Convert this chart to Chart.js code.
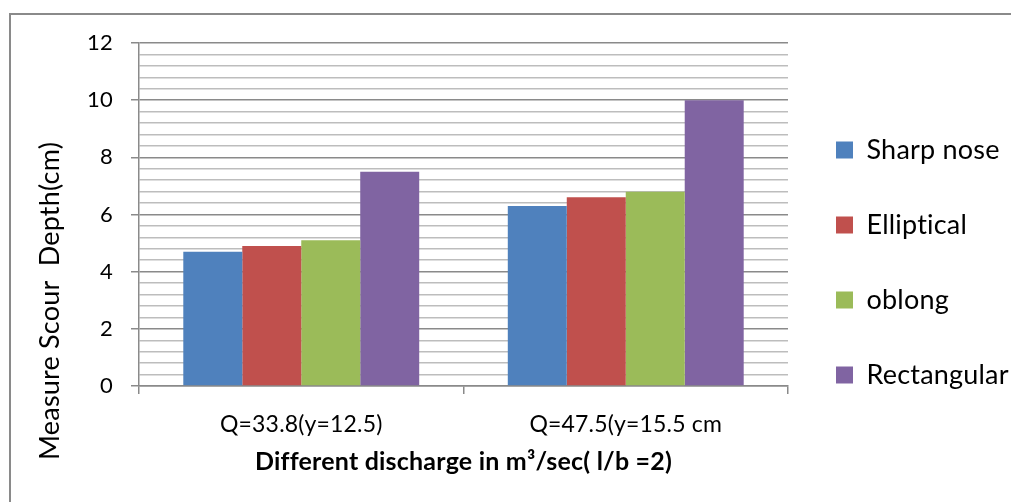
<!DOCTYPE html>
<html>
<head>
<meta charset="utf-8">
<script src="https://cdn.jsdelivr.net/npm/chart.js@4"></script>
<style>
  html, body { margin: 0; padding: 0; background: #fff; overflow: hidden; }
  #wrap { position: relative; width: 1011px; height: 502px; }
  #frame { position: absolute; left: 9px; top: 13px; width: 1100px; height: 600px; border: 2px solid #8a8a8a; }
  canvas { position: absolute; left: 0; top: 0; }
</style>
</head>
<body>
<div id="wrap">
  <div id="frame"></div>
  <canvas id="myChart" width="1011" height="502"></canvas>
</div>
<script>
'use strict';
let categories = ['Q=33.8(y=12.5)', 'Q=47.5(y=15.5 cm'];
let seriesNames = ['Sharp nose', 'Elliptical', 'oblong', 'Rectangular'];
let sharpNose = [4.7, 6.3];
let elliptical = [4.9, 6.6];
let oblong = [5.1, 6.8];
let rectangular = [7.5, 10.0];
let seriesColors = ['#4f81bd', '#c0504d', '#9bbb59', '#8064a2'];
let yMin = 0;
let yMax = 12;
let yStep = 0.4;
let yTitle = 'Measure Scour  Depth(cm)';
let xTitle = 'Different discharge in m\u00b3/sec( l/b =2)';

let seriesValues = [sharpNose, elliptical, oblong, rectangular];
let datasets = [];
for (let i = 0; i < seriesNames.length; i++) {
    datasets.push({
        label: seriesNames[i],
        data: seriesValues[i],
        backgroundColor: seriesColors[i],
        borderWidth: 0,
        barPercentage: 1,
        categoryPercentage: 0.727
    });
}

function isMajor(index) {
    return index % 5 === 0;
}

// a tiny letter spacing keeps Lato from joining "ti" into a ligature
let noLigaturePlugin = {
    id: 'noLigature',
    beforeDraw(chart) {
        chart.ctx.letterSpacing = '0.2px';
    }
};

// y axis title sits lower than the plot centre in the original
let yTitlePlugin = {
    id: 'yTitle',
    afterDraw(chart) {
        let ctx = chart.ctx;
        ctx.save();
        ctx.translate(50, 301);
        ctx.rotate(-Math.PI / 2);
        ctx.font = '27px Lato';
        ctx.fillStyle = '#000';
        ctx.textAlign = 'center';
        ctx.textBaseline = 'middle';
        ctx.fillText(yTitle, 0, 0);
        ctx.restore();
    }
};

Chart.defaults.font.family = 'Lato';
Chart.defaults.color = '#000';

let ctx = document.getElementById('myChart').getContext('2d');
let myChart = new Chart(ctx, {
    type: 'bar',
    data: {
        labels: categories,
        datasets: datasets
    },
    options: {
        responsive: false,
        animation: false,
        layout: {
            padding: { top: 43, left: 0, right: 0, bottom: 20 }
        },
        plugins: {
            legend: {
                position: 'right',
                align: 'center',
                maxWidth: 223,
                labels: {
                    boxWidth: 17,
                    boxHeight: 17,
                    padding: 48,
                    textAlign: 'left',
                    font: { size: 27 },
                    color: '#000'
                }
            },
            tooltip: { enabled: false }
        },
        scales: {
            x: {
                afterFit(scale) { scale.height = 96; },
                grid: {
                    drawOnChartArea: false,
                    tickLength: 8,
                    color: '#8a8a8a',
                    lineWidth: 1.5
                },
                border: { color: '#8a8a8a', width: 1.5 },
                ticks: { font: { size: 23 }, color: '#000', padding: 17 },
                title: {
                    display: true,
                    text: xTitle,
                    font: { size: 25, weight: 'bold' },
                    color: '#000',
                    padding: { top: 0, bottom: 5 }
                }
            },
            y: {
                min: yMin,
                max: yMax,
                afterFit(scale) { scale.width = 139; },
                grid: {
                    tickLength: 8,
                    lineWidth: 1.5,
                    color: (c) => isMajor(c.index) ? '#8a8a8a' : '#bdbdbd',
                    tickColor: (c) => isMajor(c.index) ? '#8a8a8a' : 'rgba(0,0,0,0)'
                },
                border: { color: '#8a8a8a', width: 1.5 },
                ticks: {
                    stepSize: yStep,
                    autoSkip: false,
                    padding: 18,
                    font: { size: 22 },
                    color: '#000',
                    callback: function(value, index) {
                        return isMajor(index) ? Math.round(value) : '';
                    }
                }
            }
        }
    },
    plugins: [noLigaturePlugin, yTitlePlugin]
});
</script>
</body>
</html>
